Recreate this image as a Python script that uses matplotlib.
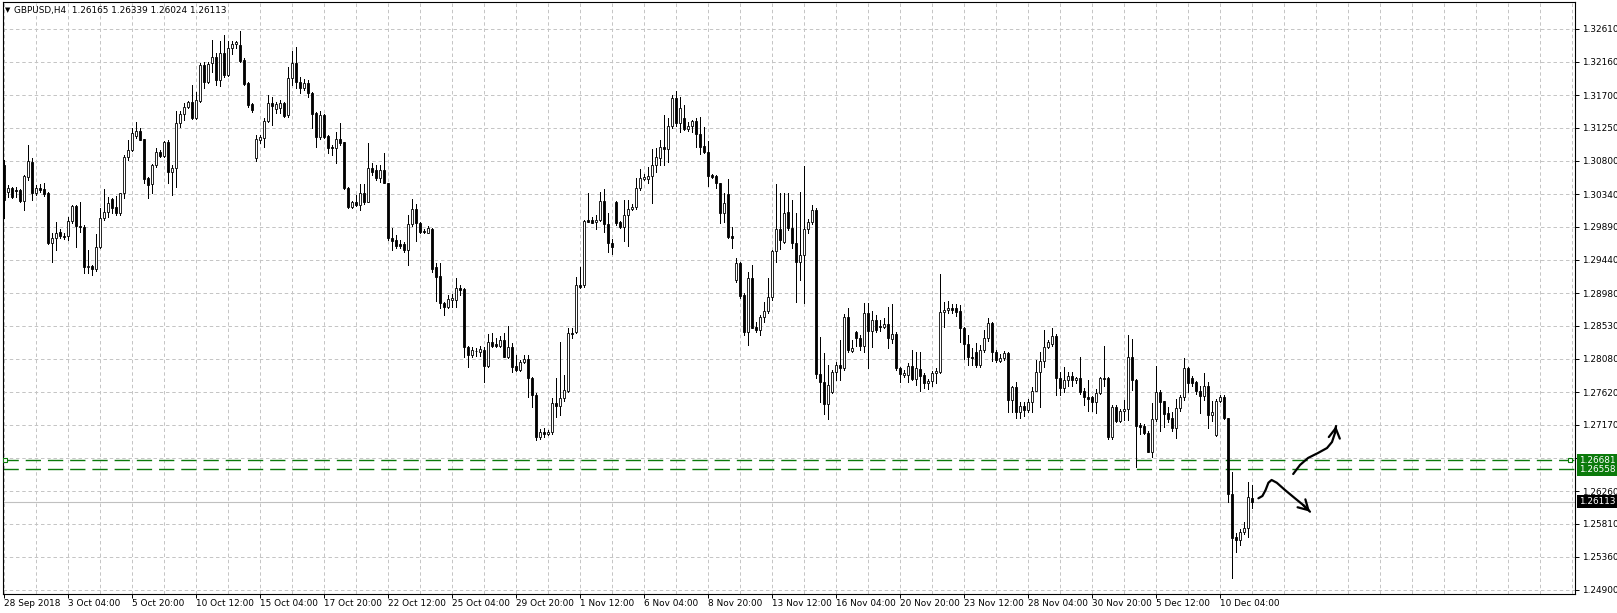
import matplotlib
matplotlib.use("Agg")
import matplotlib.pyplot as plt
import matplotlib.transforms as mtransforms
import numpy as np

# GBPUSD H4 candles (bar 0 = 28 Sep 2018 12:00)
opens = [
    1.3074, 1.3037, 1.3043, 1.3040, 1.3040, 1.3025, 1.3058, 1.3078, 1.3036, 1.3043,
    1.3041, 1.3036, 1.2967, 1.2974, 1.2982, 1.2977, 1.2976, 1.2997, 1.3018, 1.2990,
    1.2989, 1.2934, 1.2935, 1.2931, 1.2961, 1.3001, 1.3009, 1.3027, 1.3017, 1.3008,
    1.3036, 1.3085, 1.3095, 1.3114, 1.3121, 1.3110, 1.3056, 1.3048, 1.3074, 1.3092,
    1.3086, 1.3106, 1.3064, 1.3070, 1.3132, 1.3144, 1.3154, 1.3161, 1.3139, 1.3162,
    1.3212, 1.3188, 1.3214, 1.3222, 1.3191, 1.3228, 1.3198, 1.3235, 1.3240, 1.3239,
    1.3218, 1.3187, 1.3158, 1.3084, 1.3108, 1.3111, 1.3134, 1.3159, 1.3151, 1.3152,
    1.3159, 1.3143, 1.3194, 1.3214, 1.3188, 1.3180, 1.3187, 1.3173, 1.3145, 1.3113,
    1.3143, 1.3114, 1.3099, 1.3097, 1.3110, 1.3106, 1.3042, 1.3016, 1.3023, 1.3019,
    1.3036, 1.3023, 1.3070, 1.3067, 1.3056, 1.3067, 1.3050, 1.2974, 1.2971, 1.2966,
    1.2965, 1.2957, 1.2993, 1.3014, 1.2994, 1.2983, 1.2981, 1.2986, 1.2934, 1.2921,
    1.2884, 1.2879, 1.2888, 1.2889, 1.2905, 1.2904, 1.2824, 1.2813, 1.2818, 1.2817,
    1.2820, 1.2798, 1.2831, 1.2828, 1.2825, 1.2834, 1.2810, 1.2824, 1.2798, 1.2792,
    1.2803, 1.2808, 1.2781, 1.2758, 1.2700, 1.2707, 1.2705, 1.2707, 1.2747, 1.2743,
    1.2754, 1.2763, 1.2843, 1.2844, 1.2909, 1.2909, 1.2999, 1.2999, 1.2996, 1.2999,
    1.3025, 1.2993, 1.2967, 1.3023, 1.2996, 1.2989, 1.3005, 1.3014, 1.3017, 1.3043,
    1.3055, 1.3055, 1.3059, 1.3074, 1.3084, 1.3099, 1.3096, 1.3127, 1.3166, 1.3132,
    1.3139, 1.3124, 1.3127, 1.3135, 1.3117, 1.3100, 1.3092, 1.3060, 1.3059, 1.3049,
    1.3008, 1.3034, 1.2976, 1.2916, 1.2939, 1.2896, 1.2845, 1.2919, 1.2851, 1.2847,
    1.2865, 1.2874, 1.2892, 1.2956, 1.2986, 1.2968, 1.3009, 1.2987, 1.2967, 1.2941,
    1.2950, 1.2986, 1.2996, 1.3012, 1.2787, 1.2776, 1.2746, 1.2762, 1.2790, 1.2799,
    1.2795, 1.2865, 1.2819, 1.2845, 1.2837, 1.2826, 1.2871, 1.2846, 1.2861, 1.2853,
    1.2852, 1.2856, 1.2835, 1.2842, 1.2795, 1.2786, 1.2786, 1.2798, 1.2780, 1.2794,
    1.2785, 1.2775, 1.2777, 1.2788, 1.2790, 1.2872, 1.2875, 1.2878, 1.2877, 1.2873,
    1.2850, 1.2828, 1.2810, 1.2817, 1.2799, 1.2820, 1.2836, 1.2857, 1.2817, 1.2805,
    1.2809, 1.2816, 1.2751, 1.2769, 1.2735, 1.2743, 1.2738, 1.2748, 1.2764, 1.2790,
    1.2805, 1.2824, 1.2828, 1.2839, 1.2781, 1.2768, 1.2779, 1.2784, 1.2778, 1.2781,
    1.2763, 1.2755, 1.2755, 1.2748, 1.2761, 1.2781, 1.2781, 1.2700, 1.2741, 1.2722,
    1.2736, 1.2739, 1.2810, 1.2779, 1.2717, 1.2716, 1.2706, 1.2680, 1.2725, 1.2762,
    1.2750, 1.2733, 1.2727, 1.2713, 1.2740, 1.2755, 1.2795, 1.2781, 1.2776, 1.2763,
    1.2757, 1.2770, 1.2730, 1.2703, 1.2750, 1.2755, 1.2727, 1.2622, 1.2563, 1.2559,
    1.2570, 1.2575, 1.26165,
]
highs = [
    1.3081, 1.3047, 1.3044, 1.3044, 1.3041, 1.3061, 1.3102, 1.3084, 1.3047, 1.3048,
    1.3049, 1.3037, 1.2981, 1.2996, 1.2986, 1.2981, 1.3003, 1.3019, 1.3019, 1.3023,
    1.2992, 1.2957, 1.2937, 1.2979, 1.3015, 1.3041, 1.3030, 1.3029, 1.3031, 1.3036,
    1.3088, 1.3108, 1.3125, 1.3133, 1.3125, 1.3110, 1.3058, 1.3076, 1.3097, 1.3095,
    1.3107, 1.3108, 1.3074, 1.3148, 1.3148, 1.3159, 1.3162, 1.3184, 1.3174, 1.3214,
    1.3216, 1.3216, 1.3246, 1.3228, 1.3245, 1.3253, 1.3245, 1.3245, 1.3245, 1.3258,
    1.3221, 1.3188, 1.3159, 1.3115, 1.3115, 1.3139, 1.3170, 1.3168, 1.3161, 1.3163,
    1.3161, 1.3209, 1.3231, 1.3236, 1.3195, 1.3192, 1.3191, 1.3174, 1.3147, 1.3148,
    1.3144, 1.3115, 1.3102, 1.3120, 1.3132, 1.3106, 1.3044, 1.3024, 1.3033, 1.3048,
    1.3048, 1.3104, 1.3077, 1.3074, 1.3074, 1.3091, 1.3050, 1.2988, 1.2978, 1.2971,
    1.2968, 1.3005, 1.3027, 1.3021, 1.2996, 1.2986, 1.2990, 1.2988, 1.2939, 1.2939,
    1.2886, 1.2895, 1.2897, 1.2919, 1.2909, 1.2905, 1.2825, 1.2824, 1.2823, 1.2825,
    1.2824, 1.2842, 1.2843, 1.2836, 1.2839, 1.2843, 1.2853, 1.2830, 1.2813, 1.2806,
    1.2813, 1.2813, 1.2783, 1.2761, 1.2711, 1.2712, 1.2710, 1.2754, 1.2781, 1.2831,
    1.2786, 1.2850, 1.2850, 1.2920, 1.2934, 1.2999, 1.3036, 1.3003, 1.3006, 1.3037,
    1.3041, 1.3008, 1.2972, 1.3025, 1.2997, 1.3026, 1.3026, 1.3020, 1.3056, 1.3069,
    1.3062, 1.3071, 1.3096, 1.3097, 1.3108, 1.3143, 1.3139, 1.3170, 1.3176, 1.3167,
    1.3157, 1.3133, 1.3136, 1.3139, 1.3140, 1.3126, 1.3107, 1.3062, 1.3060, 1.3049,
    1.3036, 1.3055, 1.2989, 1.2946, 1.2941, 1.2898, 1.2927, 1.2937, 1.2858, 1.2868,
    1.2886, 1.2919, 1.2957, 1.3048, 1.3036, 1.3036, 1.3036, 1.3026, 1.3008, 1.3037,
    1.3073, 1.3000, 1.3019, 1.3015, 1.2838, 1.2816, 1.2799, 1.2793, 1.2803, 1.2834,
    1.2869, 1.2878, 1.2834, 1.2846, 1.2841, 1.2885, 1.2885, 1.2874, 1.2868, 1.2861,
    1.2864, 1.2879, 1.2883, 1.2845, 1.2797, 1.2792, 1.2802, 1.2820, 1.2817, 1.2817,
    1.2788, 1.2780, 1.2791, 1.2795, 1.2924, 1.2886, 1.2887, 1.2883, 1.2883, 1.2882,
    1.2852, 1.2841, 1.2823, 1.2830, 1.2827, 1.2847, 1.2864, 1.2858, 1.2820, 1.2814,
    1.2818, 1.2817, 1.2771, 1.2776, 1.2749, 1.2749, 1.2753, 1.2769, 1.2806, 1.2817,
    1.2847, 1.2834, 1.2850, 1.2842, 1.2790, 1.2797, 1.2790, 1.2789, 1.2783, 1.2810,
    1.2767, 1.2779, 1.2756, 1.2766, 1.2783, 1.2826, 1.2783, 1.2744, 1.2744, 1.2739,
    1.2751, 1.2840, 1.2835, 1.2780, 1.2719, 1.2718, 1.2708, 1.2747, 1.2798, 1.2765,
    1.2750, 1.2741, 1.2735, 1.2752, 1.2758, 1.2809, 1.2797, 1.2784, 1.2777, 1.2770,
    1.2788, 1.2776, 1.2750, 1.2753, 1.2758, 1.2758, 1.2727, 1.2652, 1.2568, 1.2574,
    1.2584, 1.2639, 1.26339,
]
lows = [
    1.3001, 1.3030, 1.3029, 1.3030, 1.3023, 1.3012, 1.3054, 1.3026, 1.3033, 1.3037,
    1.3031, 1.2966, 1.2941, 1.2957, 1.2974, 1.2972, 1.2971, 1.2994, 1.2961, 1.2982,
    1.2926, 1.2926, 1.2923, 1.2928, 1.2960, 1.2998, 1.3003, 1.3008, 1.3005, 1.3005,
    1.3029, 1.3081, 1.3094, 1.3111, 1.3108, 1.3049, 1.3029, 1.3036, 1.3071, 1.3085,
    1.3085, 1.3049, 1.3033, 1.3044, 1.3126, 1.3136, 1.3152, 1.3137, 1.3137, 1.3161,
    1.3180, 1.3187, 1.3202, 1.3184, 1.3183, 1.3195, 1.3197, 1.3227, 1.3235, 1.3216,
    1.3184, 1.3154, 1.3147, 1.3080, 1.3105, 1.3099, 1.3133, 1.3129, 1.3146, 1.3146,
    1.3140, 1.3140, 1.3184, 1.3180, 1.3173, 1.3177, 1.3168, 1.3125, 1.3099, 1.3110,
    1.3111, 1.3090, 1.3088, 1.3077, 1.3102, 1.3041, 1.3015, 1.3015, 1.3018, 1.3012,
    1.3021, 1.3023, 1.3060, 1.3053, 1.3051, 1.3049, 1.2971, 1.2957, 1.2960, 1.2960,
    1.2954, 1.2937, 1.2990, 1.2970, 1.2981, 1.2980, 1.2980, 1.2927, 1.2887, 1.2878,
    1.2868, 1.2878, 1.2879, 1.2879, 1.2895, 1.2810, 1.2797, 1.2810, 1.2811, 1.2811,
    1.2776, 1.2797, 1.2824, 1.2824, 1.2824, 1.2810, 1.2809, 1.2790, 1.2791, 1.2791,
    1.2802, 1.2755, 1.2742, 1.2696, 1.2697, 1.2700, 1.2703, 1.2705, 1.2728, 1.2731,
    1.2750, 1.2762, 1.2836, 1.2843, 1.2905, 1.2906, 1.2996, 1.2994, 1.2986, 1.2997,
    1.2982, 1.2955, 1.2952, 1.2992, 1.2988, 1.2970, 1.2963, 1.3012, 1.3014, 1.3040,
    1.3053, 1.3049, 1.3022, 1.3064, 1.3074, 1.3074, 1.3078, 1.3125, 1.3127, 1.3120,
    1.3122, 1.3121, 1.3120, 1.3099, 1.3089, 1.3090, 1.3045, 1.3056, 1.3043, 1.2994,
    1.2996, 1.2974, 1.2960, 1.2913, 1.2891, 1.2841, 1.2827, 1.2850, 1.2845, 1.2841,
    1.2858, 1.2870, 1.2889, 1.2941, 1.2959, 1.2967, 1.2985, 1.2960, 1.2886, 1.2916,
    1.2885, 1.2981, 1.2993, 1.2781, 1.2748, 1.2732, 1.2725, 1.2761, 1.2779, 1.2779,
    1.2792, 1.2817, 1.2817, 1.2826, 1.2820, 1.2817, 1.2795, 1.2824, 1.2845, 1.2846,
    1.2850, 1.2823, 1.2830, 1.2792, 1.2776, 1.2783, 1.2776, 1.2779, 1.2772, 1.2764,
    1.2768, 1.2766, 1.2771, 1.2775, 1.2788, 1.2852, 1.2871, 1.2871, 1.2867, 1.2831,
    1.2807, 1.2799, 1.2799, 1.2796, 1.2796, 1.2817, 1.2832, 1.2805, 1.2803, 1.2803,
    1.2806, 1.2735, 1.2734, 1.2727, 1.2727, 1.2729, 1.2734, 1.2734, 1.2763, 1.2742,
    1.2797, 1.2823, 1.2825, 1.2758, 1.2758, 1.2762, 1.2770, 1.2770, 1.2774, 1.2760,
    1.2744, 1.2736, 1.2736, 1.2733, 1.2759, 1.2771, 1.2698, 1.2698, 1.2721, 1.2721,
    1.2724, 1.2724, 1.2765, 1.2659, 1.2705, 1.2704, 1.2679, 1.2673, 1.2722, 1.2709,
    1.2714, 1.2721, 1.2709, 1.2699, 1.2736, 1.2751, 1.2762, 1.2770, 1.2759, 1.2733,
    1.2751, 1.2713, 1.2722, 1.2701, 1.2749, 1.2725, 1.2611, 1.2507, 1.2542, 1.2552,
    1.2567, 1.2563, 1.26024,
]
closes = [
    1.3026, 1.3043, 1.3030, 1.3038, 1.3025, 1.3059, 1.3080, 1.3036, 1.3043, 1.3040,
    1.3034, 1.2967, 1.2974, 1.2981, 1.2977, 1.2975, 1.2997, 1.3018, 1.2990, 1.2989,
    1.2934, 1.2935, 1.2931, 1.2961, 1.3001, 1.3009, 1.3022, 1.3015, 1.3008, 1.3036,
    1.3085, 1.3095, 1.3118, 1.3121, 1.3108, 1.3055, 1.3047, 1.3074, 1.3092, 1.3086,
    1.3106, 1.3064, 1.3070, 1.3132, 1.3144, 1.3154, 1.3161, 1.3139, 1.3163, 1.3212,
    1.3188, 1.3213, 1.3222, 1.3191, 1.3228, 1.3198, 1.3235, 1.3240, 1.3243, 1.3217,
    1.3185, 1.3157, 1.3150, 1.3110, 1.3112, 1.3135, 1.3159, 1.3155, 1.3158, 1.3159,
    1.3141, 1.3194, 1.3214, 1.3188, 1.3180, 1.3187, 1.3173, 1.3144, 1.3113, 1.3143,
    1.3113, 1.3097, 1.3097, 1.3110, 1.3104, 1.3042, 1.3016, 1.3023, 1.3019, 1.3036,
    1.3023, 1.3070, 1.3064, 1.3056, 1.3067, 1.3050, 1.2974, 1.2970, 1.2963, 1.2963,
    1.2957, 1.2993, 1.3014, 1.2994, 1.2982, 1.2982, 1.2988, 1.2931, 1.2920, 1.2884,
    1.2879, 1.2890, 1.2891, 1.2905, 1.2902, 1.2824, 1.2813, 1.2820, 1.2818, 1.2821,
    1.2798, 1.2831, 1.2825, 1.2825, 1.2834, 1.2810, 1.2824, 1.2797, 1.2792, 1.2803,
    1.2808, 1.2781, 1.2758, 1.2700, 1.2707, 1.2705, 1.2707, 1.2747, 1.2743, 1.2754,
    1.2765, 1.2843, 1.2842, 1.2909, 1.2906, 1.2997, 1.2996, 1.2994, 1.2999, 1.3025,
    1.2993, 1.2967, 1.2961, 1.2994, 1.2989, 1.3005, 1.3014, 1.3017, 1.3043, 1.3056,
    1.3057, 1.3059, 1.3074, 1.3085, 1.3099, 1.3096, 1.3128, 1.3166, 1.3132, 1.3152,
    1.3124, 1.3128, 1.3135, 1.3117, 1.3099, 1.3092, 1.3059, 1.3058, 1.3049, 1.3008,
    1.3022, 1.2975, 1.2974, 1.2939, 1.2894, 1.2845, 1.2919, 1.2850, 1.2847, 1.2865,
    1.2874, 1.2892, 1.2956, 1.2986, 1.2971, 1.3008, 1.2987, 1.2967, 1.2941, 1.2950,
    1.2986, 1.2996, 1.3012, 1.2787, 1.2776, 1.2746, 1.2772, 1.2790, 1.2799, 1.2795,
    1.2865, 1.2820, 1.2823, 1.2837, 1.2826, 1.2871, 1.2846, 1.2861, 1.2847, 1.2852,
    1.2856, 1.2837, 1.2842, 1.2795, 1.2787, 1.2788, 1.2798, 1.2780, 1.2795, 1.2784,
    1.2775, 1.2777, 1.2788, 1.2791, 1.2872, 1.2875, 1.2878, 1.2875, 1.2872, 1.2850,
    1.2828, 1.2810, 1.2809, 1.2799, 1.2820, 1.2836, 1.2857, 1.2817, 1.2806, 1.2809,
    1.2816, 1.2751, 1.2769, 1.2735, 1.2743, 1.2738, 1.2749, 1.2764, 1.2790, 1.2805,
    1.2824, 1.2831, 1.2839, 1.2781, 1.2768, 1.2779, 1.2784, 1.2778, 1.2781, 1.2762,
    1.2755, 1.2752, 1.2748, 1.2761, 1.2781, 1.2780, 1.2700, 1.2741, 1.2722, 1.2736,
    1.2739, 1.2810, 1.2779, 1.2716, 1.2714, 1.2706, 1.2680, 1.2725, 1.2762, 1.2748,
    1.2732, 1.2725, 1.2713, 1.2740, 1.2755, 1.2795, 1.2775, 1.2775, 1.2763, 1.2757,
    1.2770, 1.2730, 1.2734, 1.2750, 1.2755, 1.2727, 1.2622, 1.2562, 1.2559, 1.2570,
    1.2575, 1.2618, 1.26113,
]

time_labels = ["28 Sep 2018", "3 Oct 04:00", "5 Oct 20:00", "10 Oct 12:00", "15 Oct 04:00",
               "17 Oct 20:00", "22 Oct 12:00", "25 Oct 04:00", "29 Oct 20:00", "1 Nov 12:00",
               "6 Nov 04:00", "8 Nov 20:00", "13 Nov 12:00", "16 Nov 04:00", "20 Nov 20:00",
               "23 Nov 12:00", "28 Nov 04:00", "30 Nov 20:00", "5 Dec 12:00", "10 Dec 04:00"]
bars_per_label = 16
bars_per_vgrid = 8

price_grid = [1.32610, 1.32160, 1.31700, 1.31250, 1.30800, 1.30340, 1.29890, 1.29440,
              1.28980, 1.28530, 1.28080, 1.27620, 1.27170, 1.26720, 1.26260, 1.25810,
              1.25360, 1.24900]
hidden_label = 1.26720  # covered by the line labels in the terminal

level_upper = 1.26681
level_lower = 1.26558
last_price = 1.26113
title_text = "GBPUSD,H4  1.26165 1.26339 1.26024 1.26113"

# the two hand drawn arrows (bar index, price)
up_arrow_x = [322.3, 324.0, 326.0, 328.5, 330.75, 332.0, 332.75, 333.0]
up_arrow_y = [1.26494, 1.26618, 1.26714, 1.26783, 1.26851, 1.26934, 1.27058, 1.27154]
down_arrow_x = [313.6, 314.6, 315.4, 316.1, 316.9, 318.2, 320.25, 322.75, 324.8, 326.5]
down_arrow_y = [1.26160, 1.26192, 1.26274, 1.26374, 1.26412, 1.26374, 1.26274, 1.26160,
                1.26068, 1.25976]

plt.rcParams['font.family'] = ['DejaVu Sans']
plt.rcParams['lines.scale_dashes'] = False

W, H = 1617, 613
fig = plt.figure(figsize=(W / 100, H / 100), dpi=100)
fig.patch.set_facecolor('white')
ax = fig.add_axes([3 / W, 19 / H, 1572 / W, 592 / H])
ax.set_xlim(-0.25, 392.75)
ax.set_ylim(1.24845, 1.32981)

o = np.array(opens)
h = np.array(highs)
l = np.array(lows)
c = np.array(closes)
x = np.arange(len(c))

grid_col = '#c4c4c4'
for k in range(0, 393, bars_per_vgrid):
    ax.axvline(k, color=grid_col, lw=0.7, ls=(0, (2.5, 2.0)), zorder=0)
for p in price_grid:
    ax.axhline(p, color=grid_col, lw=0.7, ls=(0, (2.5, 2.0)), zorder=0)

# bid line and the two horizontal levels
ax.axhline(last_price, color='#c0c0c0', lw=0.8, zorder=1)
green = '#0b7a0b'
for lev in (level_upper, level_lower):
    ax.axhline(lev, color=green, lw=1.0, ls=(0, (11, 5)), zorder=1)
ax.plot([0.3, 391.6], [level_upper, level_upper], ls='none', marker='s', ms=3.5,
        mfc='white', mec=green, mew=0.8, zorder=4)

# candles: 1 px wicks, 3 px bodies (white inside for rising bars)
ax.vlines(x, l, h, color='black', lw=0.72, antialiased=False, zorder=2)
up = c >= o
body_lo = np.minimum(o, c)
body_h = np.abs(c - o)
ax.bar(x[up], body_h[up], bottom=body_lo[up], width=0.62, color='white',
       edgecolor='black', linewidth=0.6, zorder=3)
ax.bar(x[~up], body_h[~up], bottom=body_lo[~up], width=0.62, color='black',
       edgecolor='black', linewidth=0.6, zorder=3)

# arrows
ax.plot(up_arrow_x, up_arrow_y, color='black', lw=1.6, solid_capstyle='round', zorder=5)
ax.annotate('', xy=(up_arrow_x[-1], up_arrow_y[-1]), xytext=(up_arrow_x[-2], up_arrow_y[-2]),
            arrowprops=dict(arrowstyle='->,head_length=0.7,head_width=0.4', lw=1.6,
                            color='black', shrinkA=0, shrinkB=0), zorder=5)
ax.plot(down_arrow_x, down_arrow_y, color='black', lw=1.6, solid_capstyle='round', zorder=5)
ax.annotate('', xy=(down_arrow_x[-1], down_arrow_y[-1]),
            xytext=(down_arrow_x[-2], down_arrow_y[-2]),
            arrowprops=dict(arrowstyle='->,head_length=0.7,head_width=0.4', lw=1.6,
                            color='black', shrinkA=0, shrinkB=0), zorder=5)

# axes, ticks
for s in ax.spines.values():
    s.set_color('black')
    s.set_linewidth(0.8)
ax.set_xticks(np.arange(len(time_labels)) * bars_per_label)
ax.set_xticklabels(time_labels, ha='left')
ax.yaxis.tick_right()
ax.set_yticks(price_grid)
ax.set_yticklabels(['' if abs(p - hidden_label) < 1e-9 else f'{p:.5f}' for p in price_grid])
ax.tick_params(axis='x', length=3, width=0.7, pad=0.5, labelsize=6.4)
ax.tick_params(axis='y', length=3, width=0.7, pad=2, labelsize=6.4)

# price labels on the scale
tr = mtransforms.blended_transform_factory(fig.transFigure, ax.transData)
for lev in (level_upper, level_lower):
    fig.text(1579 / W, lev, f'{lev:.5f}', transform=tr, ha='left', va='center',
             fontsize=6.4, color='white',
             bbox=dict(boxstyle='square,pad=0.25', fc=green, ec='none'))
fig.text(1579 / W, last_price, f'{last_price:.5f}', transform=tr, ha='left', va='center',
         fontsize=6.4, color='white',
         bbox=dict(boxstyle='square,pad=0.25', fc='black', ec='none'))

# header
fig.text(5 / W, 1 - 10 / H, '\u25bc', fontsize=5, va='center', ha='left')
fig.text(14 / W, 1 - 10 / H, title_text, fontsize=6.4, va='center', ha='left')

fig.savefig('out.png', dpi=100, facecolor='white')
